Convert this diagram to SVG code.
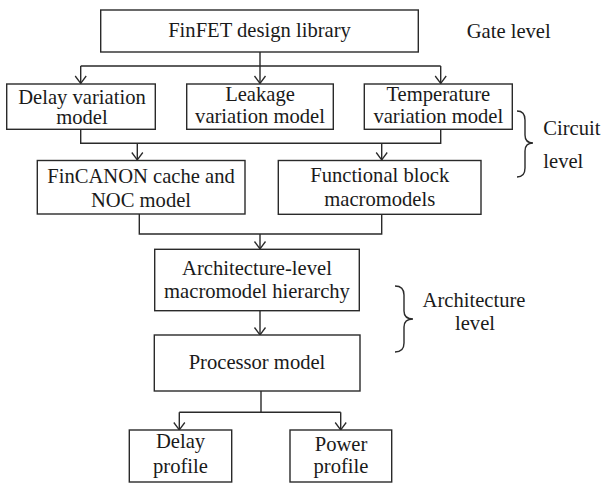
<svg xmlns="http://www.w3.org/2000/svg" width="603" height="483" viewBox="0 0 603 483">
<style>
.box{fill:#fff;stroke:#2a2a2a;stroke-width:1.4}
.ln{fill:none;stroke:#2a2a2a;stroke-width:1.4}
.t{font-family:"Liberation Serif","Times New Roman",serif;font-size:20.6px;fill:#1a1a1a;text-anchor:middle}
.s{text-anchor:start}
</style>
<defs>
<marker id="arr" viewBox="-9 -7 11 14" refX="0" refY="0" markerWidth="11" markerHeight="14" markerUnits="userSpaceOnUse" orient="auto">
<path d="M-7.5,-5.5 L0,0 L-7.5,5.5" fill="none" stroke="#2a2a2a" stroke-width="1.3"/>
</marker>
</defs>
<rect width="603" height="483" fill="#fff"/>
<g id="connectors">
<path class="ln" d="M260,52 V66 M80.7,66 H440.7"/>
<path class="ln" d="M80.7,66 V83.5" marker-end="url(#arr)"/>
<path class="ln" d="M260,66 V83.5" marker-end="url(#arr)"/>
<path class="ln" d="M440.7,66 V83.5" marker-end="url(#arr)"/>
<path class="ln" d="M80.7,129.3 V143.3 H440.7 V129.3"/>
<path class="ln" d="M137.3,143.3 V160" marker-end="url(#arr)"/>
<path class="ln" d="M381.7,143.3 V160" marker-end="url(#arr)"/>
<path class="ln" d="M139.3,214 V234 H381.7 V214"/>
<path class="ln" d="M260,234 V249" marker-end="url(#arr)"/>
<path class="ln" d="M260,310.7 V335" marker-end="url(#arr)"/>
<path class="ln" d="M261,391 V412.3 M179.3,412.3 H340.7"/>
<path class="ln" d="M179.3,412.3 V430" marker-end="url(#arr)"/>
<path class="ln" d="M340.7,412.3 V430" marker-end="url(#arr)"/>
</g>
<g id="n-finfet">
<rect class="box" x="100.7" y="10" width="317.6" height="42"/>
<text class="t" x="259.5" y="37">FinFET design library</text>
</g>
<g id="n-delayvar">
<rect class="box" x="6.7" y="84" width="148.6" height="45.3"/>
<text class="t" x="82" y="104">Delay variation</text>
<text class="t" x="82" y="124">model</text>
</g>
<g id="n-leakage">
<rect class="box" x="186.7" y="84" width="146.6" height="45.3"/>
<text class="t" x="260" y="101">Leakage</text>
<text class="t" x="260" y="123">variation model</text>
</g>
<g id="n-temp">
<rect class="box" x="364.3" y="84" width="148" height="45.3"/>
<text class="t" x="438.3" y="101">Temperature</text>
<text class="t" x="438.3" y="123">variation model</text>
</g>
<g id="n-fincanon">
<rect class="box" x="37.3" y="160.5" width="207.7" height="53.5"/>
<text class="t" x="141" y="183">FinCANON cache and</text>
<text class="t" x="141" y="207">NOC model</text>
</g>
<g id="n-functional">
<rect class="box" x="278.3" y="160.5" width="202.7" height="53.8"/>
<text class="t" x="379.7" y="182">Functional block</text>
<text class="t" x="379.7" y="206">macromodels</text>
</g>
<g id="n-arch">
<rect class="box" x="154.7" y="249.3" width="204.6" height="61.4"/>
<text class="t" x="257" y="275">Architecture-level</text>
<text class="t" x="257" y="298">macromodel hierarchy</text>
</g>
<g id="n-processor">
<rect class="box" x="154.3" y="335" width="205.7" height="56"/>
<text class="t" x="257" y="369">Processor model</text>
</g>
<g id="n-delayprof">
<rect class="box" x="129.3" y="430" width="102.4" height="52"/>
<text class="t" x="180.5" y="448">Delay</text>
<text class="t" x="180.5" y="473">profile</text>
</g>
<g id="n-powerprof">
<rect class="box" x="290" y="430" width="101.7" height="52"/>
<text class="t" x="341" y="451">Power</text>
<text class="t" x="341" y="473">profile</text>
</g>
<g id="labels">
<text class="t s" x="466.7" y="38">Gate level</text>
<path class="ln" d="M517,111 Q525,111 525,120 V135 Q525,143 533,143 Q525,143 525,151 V168 Q525,177 517,177"/>
<text class="t s" x="543.3" y="135">Circuit</text>
<text class="t s" x="543.3" y="168">level</text>
<path class="ln" d="M395,286 Q404,286 404,295 V311 Q404,319 413,319 Q404,319 404,327 V343 Q404,352 395,352"/>
<text class="t" x="474" y="307">Architecture</text>
<text class="t" x="475" y="330">level</text>
</g>
</svg>
